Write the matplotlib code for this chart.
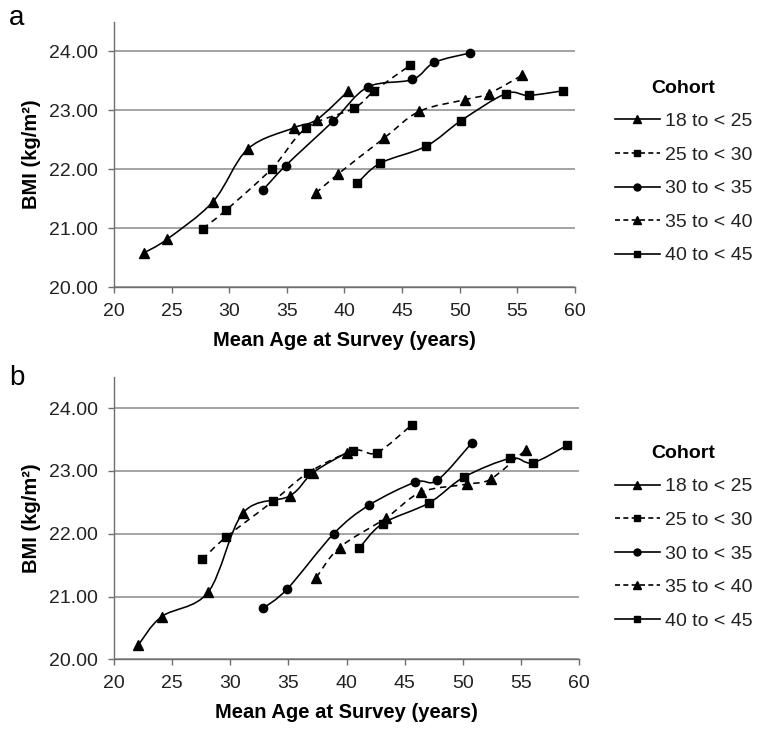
import numpy as np
import matplotlib
matplotlib.use('Agg')
import matplotlib.pyplot as plt
from matplotlib.path import Path
from matplotlib.patches import PathPatch
from matplotlib.lines import Line2D

plt.rcParams['font.family'] = ['Liberation Sans', 'DejaVu Sans']

cohorts = ['18 to < 25', '25 to < 30', '30 to < 35', '35 to < 40', '40 to < 45']
markers = ['^', 's', 'o', '^', 's']
styles = ['-', '--', '-', '--', '-']

# panel a
age_a = [
    [22.6, 24.6, 28.6, 31.6, 35.6, 37.6, 40.3],
    [27.7, 29.7, 33.7, 36.7, 40.8, 42.6, 45.7],
    [32.9, 34.9, 39.0, 42.0, 45.9, 47.8, 50.9],
    [37.5, 39.4, 43.4, 46.5, 50.5, 52.5, 55.4],
    [41.1, 43.1, 47.1, 50.1, 54.0, 56.0, 59.0],
]
bmi_a = [
    [20.58, 20.81, 21.45, 22.34, 22.70, 22.84, 23.32],
    [20.99, 21.30, 22.01, 22.70, 23.03, 23.33, 23.76],
    [21.64, 22.06, 22.81, 23.39, 23.52, 23.81, 23.97],
    [21.59, 21.91, 22.52, 22.98, 23.18, 23.28, 23.59],
    [21.76, 22.10, 22.39, 22.82, 23.28, 23.25, 23.33],
]

# panel b
age_b = [
    [22.1, 24.1, 28.1, 31.1, 35.1, 37.1, 40.0],
    [27.6, 29.6, 33.7, 36.7, 40.6, 42.6, 45.6],
    [32.8, 34.9, 38.9, 41.9, 45.9, 47.8, 50.8],
    [37.4, 39.4, 43.4, 46.4, 50.4, 52.4, 55.4],
    [41.1, 43.1, 47.1, 50.1, 54.1, 56.0, 59.0],
]
bmi_b = [
    [20.23, 20.68, 21.07, 22.33, 22.60, 22.97, 23.29],
    [21.59, 21.94, 22.52, 22.97, 23.32, 23.29, 23.73],
    [20.81, 21.12, 22.00, 22.45, 22.82, 22.85, 23.45],
    [21.30, 21.78, 22.25, 22.66, 22.79, 22.87, 23.33],
    [21.77, 22.16, 22.49, 22.90, 23.20, 23.13, 23.41],
]

GRID = '#8a8a8a'
AXC = '#6e6e6e'


def smooth_path(x, y):
    # Excel style smoothed line: cubic bezier through the points
    p = np.column_stack([x, y]).astype(float)
    n = len(p)
    verts = [p[0]]
    codes = [Path.MOVETO]
    for i in range(n - 1):
        p0 = p[i - 1] if i > 0 else p[i]
        p3 = p[i + 2] if i + 2 < n else p[i + 1]
        c1 = p[i] + (p[i + 1] - p0) / 6.0
        c2 = p[i + 1] - (p3 - p[i]) / 6.0
        verts += [c1, c2, p[i + 1]]
        codes += [Path.CURVE4] * 3
    return Path(verts, codes)


def draw_panel(ax, ages, bmis, legend_y):
    for k in range(len(cohorts)):
        ls = (0, (4, 3)) if styles[k] == '--' else '-'
        ax.add_patch(PathPatch(smooth_path(ages[k], bmis[k]), facecolor='none',
                               edgecolor='black', lw=1.15, linestyle=ls, zorder=3))
        ms = 7 if markers[k] == '^' else 6
        ax.plot(ages[k], bmis[k], linestyle='none', marker=markers[k], ms=ms,
                color='black', zorder=4)
    ax.set_xlim(20, 60)
    ax.set_ylim(20, 24.5)
    ax.set_xticks(range(20, 61, 5))
    ax.set_yticks([20, 21, 22, 23, 24])
    ax.set_yticklabels(['%.2f' % v for v in [20, 21, 22, 23, 24]])
    ax.grid(axis='y', color=GRID, lw=1.1)
    ax.set_axisbelow(True)
    for s in ['top', 'right']:
        ax.spines[s].set_visible(False)
    for s in ['left', 'bottom']:
        ax.spines[s].set_color(AXC)
        ax.spines[s].set_linewidth(1.0)
    ax.tick_params(colors=AXC, labelcolor='#222222', labelsize=14, length=4.5, width=1.0)
    ax.tick_params(axis='x', pad=7)
    ax.tick_params(axis='y', pad=7)
    ax.set_xlabel('Mean Age at Survey (years)', fontsize=14.5, fontweight='bold', labelpad=8)
    ax.set_ylabel('BMI (kg/m²)', fontsize=14.5, fontweight='bold', labelpad=6)

    handles = []
    for k in range(len(cohorts)):
        ls = (0, (3, 2)) if styles[k] == '--' else '-'
        ms = 6 if markers[k] == '^' else 5
        handles.append(Line2D([], [], color='black', lw=1.2, linestyle=ls,
                              marker=markers[k], ms=ms))
    leg = fig.legend(handles, cohorts, loc='center left', bbox_to_anchor=(0.782, legend_y),
                     frameon=False, fontsize=14, title='Cohort',
                     title_fontproperties={'weight': 'bold', 'size': 14},
                     handlelength=2.3, handletextpad=0.25, labelspacing=0.82)
    for t in leg.get_texts():
        t.set_color('#222222')


fig = plt.figure(figsize=(7.64, 7.29), dpi=100)
ax1 = fig.add_axes([0.1492, 0.6063, 0.6034, 0.3639])
ax2 = fig.add_axes([0.1492, 0.0956, 0.6087, 0.3877])
draw_panel(ax1, age_a, bmi_a, 0.764)
draw_panel(ax2, age_b, bmi_b, 0.263)

fig.text(0.012, 0.975, 'a', fontsize=20, va='center', ha='left')
fig.text(0.012, 0.482, 'b', fontsize=20, va='center', ha='left')

fig.savefig('out.png', dpi=100)
